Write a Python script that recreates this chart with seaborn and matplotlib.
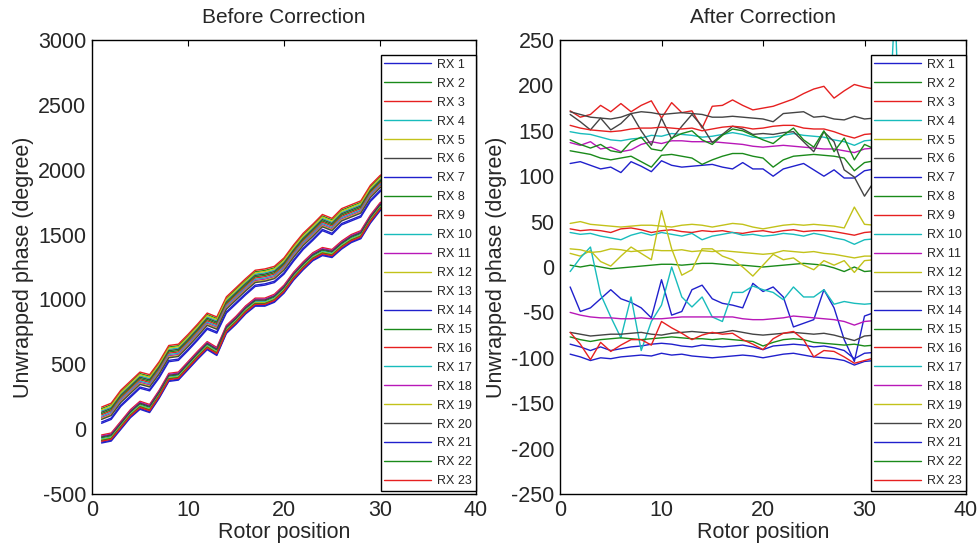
import numpy as np
import pandas as pd
import matplotlib
matplotlib.use("Agg")
import matplotlib.pyplot as plt
import seaborn as sns

# ---------------- data ----------------
positions = list(range(1, 35))
labels = [f"RX {i}" for i in range(1, 24)]

c_b, c_g, c_r, c_c = "#2020cc", "#1a8a1a", "#e62020", "#18bcbc"
c_m, c_y, c_k = "#b818b8", "#c2c21a", "#444444"
colors = [c_b, c_g, c_r, c_c, c_y, c_k,
          c_b, c_g, c_r, c_c, c_m, c_y, c_k,
          c_b, c_g, c_r, c_c, c_m, c_y, c_k,
          c_b, c_g, c_r]

# Before correction: two bundles (upper / lower) sharing the rotor trend
trend_upper = [170, 200, 300, 370, 440, 420, 520, 645, 655, 730, 810, 895, 865, 1020,
               1090, 1160, 1225, 1235, 1255, 1320, 1420, 1510, 1580, 1655, 1625, 1700,
               1730, 1760, 1880, 1955, 2000, 2040, 2090, 2130]
trend_lower = [-45, -30, 60, 150, 215, 190, 300, 430, 440, 520, 600, 675, 630, 800,
               870, 950, 1010, 1010, 1040, 1110, 1210, 1290, 1360, 1400, 1385, 1450,
               1500, 1530, 1650, 1745, 1790, 1830, 1880, 1920]
bundle = ["U"] * 13 + ["L"] * 10
offset_before = [-115, -12, 0, -30, -20, -40, -125, -50, -60, -70, -80, -88, -95,
                 -55, -22, 0, -30, -8, -36, -15, -62, -42, -48]

# After correction
after = {
    "RX 1": [114, 116, 112, 108, 110, 104, 116, 111, 105, 117, 112, 110, 111, 112, 113, 110, 108,
             115, 108, 108, 100, 108, 111, 114, 107, 100, 107, 98, 98, 106, 108, 107, 108, 107],
    "RX 2": [128, 126, 124, 120, 118, 120, 122, 116, 110, 123, 124, 122, 120, 113, 118, 122, 125,
             125, 122, 120, 110, 118, 122, 123, 124, 123, 122, 120, 106, 115, 117, 116, 117, 116],
    "RX 3": [172, 165, 168, 178, 171, 180, 171, 178, 183, 164, 181, 170, 172, 153, 177, 178, 184,
             178, 173, 175, 177, 181, 185, 191, 196, 199, 186, 194, 201, 198, 196, 195, 197, 196],
    "RX 4": [149, 147, 146, 143, 140, 139, 141, 142, 145, 144, 147, 146, 145, 143, 144, 146, 148,
             146, 143, 142, 143, 145, 147, 145, 144, 143, 140, 138, 134, 139, 140, 139, 140, 139],
    "RX 5": [48, 50, 47, 46, 45, 44, 45, 46, 46, 45, 44, 46, 47, 46, 44, 46, 48,
             47, 44, 42, 44, 46, 47, 46, 47, 46, 45, 43, 66, 47, 46, 45, 46, 45],
    "RX 6": [171, 168, 165, 164, 163, 165, 169, 171, 170, 168, 169, 170, 169, 168, 165, 165, 166,
             165, 164, 163, 160, 169, 170, 171, 165, 166, 163, 162, 166, 163, 164, 163, 165, 164],
    "RX 7": [-22, -49, -45, -35, -25, -35, -39, -45, -56, -14, -53, -49, -25, -20, -35, -40, -42,
             -45, -18, -27, -22, -33, -66, -62, -58, -25, -45, -80, -104, -54, -50, -52, -50, -51],
    "RX 8": [2, 0, 2, 0, -2, -1, 0, 1, 2, 3, 3, 2, 3, 4, 4, 3, 2,
             2, 1, 0, 1, 2, 3, 4, 3, 2, -1, -5, 0, -5, -4, -4, -4, -4],
    "RX 9": [42, 40, 41, 40, 38, 42, 43, 41, 38, 40, 41, 39, 38, 40, 39, 40, 38,
             37, 39, 40, 38, 40, 41, 39, 40, 40, 39, 37, 35, 38, 39, 38, 39, 38],
    "RX 10": [38, 36, 37, 34, 32, 30, 35, 38, 35, 38, 36, 34, 37, 30, 34, 36, 38,
              35, 36, 34, 35, 37, 36, 34, 37, 35, 32, 30, 25, 30, 31, 30, 31, 30],
    "RX 11": [137, 134, 138, 130, 132, 127, 129, 135, 138, 136, 139, 139, 138, 138, 138, 137, 136,
              135, 133, 132, 133, 134, 133, 132, 131, 130, 130, 128, 126, 130, 131, 130, 131, 130],
    "RX 12": [15, 12, 18, 6, 1, 12, 22, 15, 8, 62, 20, -9, -3, 20, 20, 12, 8,
              0, -10, 2, 14, 8, 10, 2, -3, 7, 2, 7, -6, 7, 8, 7, 8, 7],
    "RX 13": [168, 160, 151, 164, 151, 158, 169, 150, 134, 164, 141, 155, 168, 155, 137, 146, 155,
              152, 146, 147, 146, 148, 149, 138, 127, 149, 138, 107, 99, 78, 95, 100, 98, 100],
    "RX 14": [-85, -88, -92, -88, -92, -90, -88, -87, -85, -84, -85, -87, -88, -86, -87, -88, -87,
              -86, -88, -91, -87, -86, -85, -86, -88, -87, -89, -92, -101, -95, -94, -95, -94, -95],
    "RX 15": [140, 135, 131, 135, 128, 126, 138, 143, 130, 128, 142, 147, 150, 140, 135, 145, 152,
              150, 145, 140, 136, 145, 153, 140, 132, 150, 127, 142, 118, 135, 130, 132, 131, 130],
    "RX 16": [156, 153, 151, 150, 149, 150, 152, 153, 153, 154, 153, 152, 153, 150, 152, 154, 155,
              154, 152, 153, 155, 156, 156, 153, 152, 152, 149, 145, 142, 146, 147, 146, 147, 146],
    "RX 17": [-5, 10, 22, -30, -55, -78, -33, -92, -60, -42, 0, -33, -44, -33, -55, -60, -28,
              -28, -21, -25, -28, -36, -22, -33, -33, -25, -41, -38, -40, -41, -40, 60, 290, -40],
    "RX 18": [-50, -53, -55, -56, -56, -57, -57, -56, -57, -57, -56, -55, -55, -55, -55, -55, -55,
              -57, -58, -58, -57, -56, -54, -55, -56, -57, -58, -60, -64, -60, -59, -60, -59, -60],
    "RX 19": [20, 19, 16, 17, 20, 19, 17, 18, 19, 18, 18, 19, 17, 18, 17, 18, 17,
              16, 15, 14, 15, 18, 17, 16, 17, 15, 14, 12, 10, 12, 12, 11, 12, 11],
    "RX 20": [-72, -74, -76, -75, -74, -74, -73, -72, -74, -75, -73, -72, -71, -72, -73, -72, -70,
              -72, -74, -75, -74, -73, -72, -73, -74, -73, -75, -78, -81, -76, -75, -76, -75, -76],
    "RX 21": [-96, -99, -103, -100, -101, -99, -98, -97, -98, -95, -97, -96, -98, -99, -100, -99, -98,
              -97, -98, -100, -98, -96, -95, -97, -99, -100, -101, -103, -108, -104, -103, -104, -103, -104],
    "RX 22": [-77, -80, -82, -80, -79, -78, -79, -80, -79, -78, -77, -78, -79, -79, -80, -79, -80,
              -81, -82, -87, -83, -80, -79, -80, -83, -84, -85, -86, -85, -87, -86, -87, -86, -87],
    "RX 23": [-72, -85, -102, -83, -93, -86, -80, -80, -86, -60, -67, -73, -80, -75, -72, -74, -73,
              -80, -85, -91, -79, -73, -71, -80, -99, -92, -93, -99, -106, -103, -100, -101, -100, -101],
}

# ---------------- tables ----------------
rows_b, rows_a = [], []
for i, lab in enumerate(labels):
    tr = trend_upper if bundle[i] == "U" else trend_lower
    for j, x in enumerate(positions):
        rows_b.append((lab, x, tr[j] + offset_before[i]))
        rows_a.append((lab, x, after[lab][j]))
df_b = pd.DataFrame(rows_b, columns=["rx", "pos", "phase"])
df_a = pd.DataFrame(rows_a, columns=["rx", "pos", "phase"])

# ---------------- plot ----------------
sns.set_style("white")
plt.rcParams["font.family"] = ["Liberation Sans", "DejaVu Sans"]
plt.rcParams["axes.unicode_minus"] = False

fig = plt.figure(figsize=(9.8, 5.46), dpi=100)
ax1 = fig.add_axes([92 / 980, 52 / 546, 384 / 980, 454 / 546])
ax2 = fig.add_axes([560 / 980, 52 / 546, 406 / 980, 454 / 546])

palette = dict(zip(labels, colors))
for ax, df, title, ylim, yt in [
    (ax1, df_b, "Before Correction", (-500, 3000), np.arange(-500, 3001, 500)),
    (ax2, df_a, "After Correction", (-250, 250), np.arange(-250, 251, 50)),
]:
    sns.lineplot(data=df, x="pos", y="phase", hue="rx", hue_order=labels,
                 palette=palette, errorbar=None, legend=False, linewidth=1.0,
                 ax=ax, sort=False)
    ax.set_xlim(0, 40)
    ax.set_ylim(*ylim)
    ax.set_xticks([0, 10, 20, 30, 40])
    ax.set_yticks(yt)
    ax.tick_params(direction="in", top=True, right=True, length=4, width=0.8,
                   labelsize=15.5, color="black", pad=4)
    for sp in ax.spines.values():
        sp.set_visible(True)
        sp.set_color("black")
        sp.set_linewidth(1.0)
    ax.set_title(title, fontsize=15, pad=12)
    ax.set_xlabel("Rotor position", fontsize=15.5, labelpad=1)
    ax.set_ylabel("Unwrapped phase (degree)", fontsize=15.5, labelpad=3)
    handles = ax.lines[:len(labels)]
    leg = ax.legend(handles, labels, loc="upper right",
                    bbox_to_anchor=(1.0, (494 - 55) / 454), borderaxespad=0,
                    fontsize=9, handlelength=3.7, handletextpad=0.55,
                    labelspacing=0.555, borderpad=0.3, frameon=True,
                    fancybox=False, framealpha=1)
    leg.get_frame().set_edgecolor("black")
    leg.get_frame().set_linewidth(1.0)

fig.savefig("out.png", dpi=100)
